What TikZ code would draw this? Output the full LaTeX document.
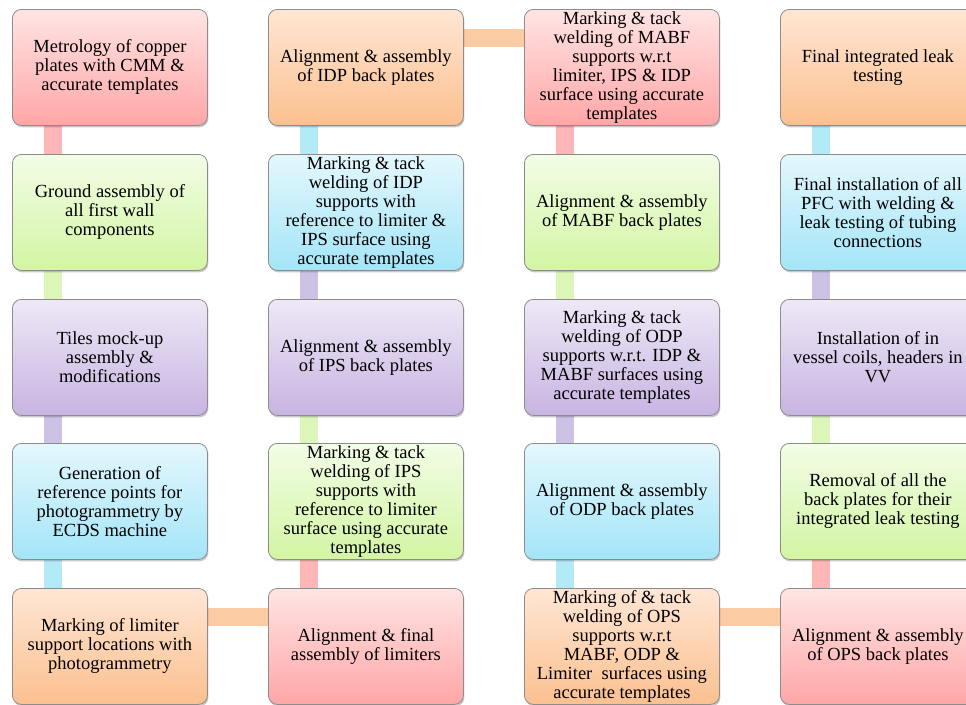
\documentclass[tikz,border=0pt]{standalone}
\usepackage{fontspec}
\setmainfont{Liberation Serif}
\usetikzlibrary{calc,shadows,backgrounds}
\definecolor{pinkT}{HTML}{FFE4E4}
\definecolor{pinkB}{HTML}{FFA6A6}
\definecolor{pinkC}{HTML}{FFB6B6}
\definecolor{greenT}{HTML}{F2FDE6}
\definecolor{greenB}{HTML}{D3F5A3}
\definecolor{greenC}{HTML}{DCF5B8}
\definecolor{purpleT}{HTML}{EEE8F6}
\definecolor{purpleB}{HTML}{C8B4E2}
\definecolor{purpleC}{HTML}{CEC1E6}
\definecolor{blueT}{HTML}{E4F7FD}
\definecolor{blueB}{HTML}{A3E5F8}
\definecolor{blueC}{HTML}{B3EAF8}
\definecolor{orangeT}{HTML}{FFE6D4}
\definecolor{orangeB}{HTML}{FBC08F}
\definecolor{orangeC}{HTML}{FBCCA3}
\definecolor{boxline}{HTML}{8C8C8C}
\tikzset{
  box/.style={draw=boxline, line width=0.8pt, rounded corners=9pt,
    minimum width=195pt, minimum height=116pt, anchor=north west,
    align=center, inner sep=2pt, font=\fontsize{18.5}{19}\selectfont,
    drop shadow={shadow xshift=1pt, shadow yshift=-2pt, opacity=0.3, fill=black!70}},
  pinkbox/.style={box, top color=pinkT, bottom color=pinkB},
  greenbox/.style={box, top color=greenT, bottom color=greenB},
  purplebox/.style={box, top color=purpleT, bottom color=purpleB},
  bluebox/.style={box, top color=blueT, bottom color=blueB},
  orangebox/.style={box, top color=orangeT, bottom color=orangeB},
  conn/.style={line width=18pt, draw=#1, line cap=butt},
}
\begin{document}
\begin{tikzpicture}[x=1pt,y=-1pt]
\useasboundingbox (0,0) rectangle (966,704);
\clip (0,0) rectangle (966,704);
% column 1
\node[pinkbox] (a1) at (12,9) {Metrology of copper\\plates with CMM \&\\accurate templates};
\node[greenbox] (a2) at (12,154) {Ground assembly of\\all first wall\\components};
\node[purplebox] (a3) at (12,299) {Tiles mock-up\\assembly \&\\modifications};
\node[bluebox] (a4) at (12,443) {Generation of\\reference points for\\photogrammetry by\\ECDS machine};
\node[orangebox] (a5) at (12,588) {Marking of limiter\\support locations with\\photogrammetry};
% column 2
\node[pinkbox] (b5) at (268,588) {Alignment \& final\\assembly of limiters};
\node[greenbox] (b4) at (268,443) {Marking \& tack\\welding of IPS\\supports with\\reference to limiter\\surface using accurate\\templates};
\node[purplebox] (b3) at (268,299) {Alignment \& assembly\\of IPS back plates};
\node[bluebox] (b2) at (268,154) {Marking \& tack\\welding of IDP\\supports with\\reference to limiter \&\\IPS surface using\\accurate templates};
\node[orangebox] (b1) at (268,9) {Alignment \& assembly\\of IDP back plates};
% column 3
\node[pinkbox] (c1) at (524,9) {Marking \& tack\\welding of MABF\\supports w.r.t\\limiter, IPS \& IDP\\surface using accurate\\templates};
\node[greenbox] (c2) at (524,154) {Alignment \& assembly\\of MABF back plates};
\node[purplebox] (c3) at (524,299) {Marking \& tack\\welding of ODP\\supports w.r.t. IDP \&\\MABF surfaces using\\accurate templates};
\node[bluebox] (c4) at (524,443) {Alignment \& assembly\\of ODP back plates};
\node[orangebox] (c5) at (524,588) {Marking of \& tack\\welding of OPS\\supports w.r.t\\MABF, ODP \&\\Limiter\ \ surfaces using\\accurate templates};
% column 4
\node[pinkbox] (d5) at (780,588) {Alignment \& assembly\\of OPS back plates};
\node[greenbox] (d4) at (780,443) {Removal of all the\\back plates for their\\integrated leak testing};
\node[purplebox] (d3) at (780,299) {Installation of in\\vessel coils, headers in\\VV};
\node[bluebox] (d2) at (780,154) {Final installation of all\\PFC with welding \&\\leak testing of tubing\\connections};
\node[orangebox] (d1) at (780,9) {Final integrated leak\\testing};
\begin{scope}[on background layer]
% column 1 down
\draw[conn=pinkC]   ($(a1.south west)+(41,0)$) -- ($(a2.north west)+(41,0)$);
\draw[conn=greenC]  ($(a2.south west)+(41,0)$) -- ($(a3.north west)+(41,0)$);
\draw[conn=purpleC] ($(a3.south west)+(41,0)$) -- ($(a4.north west)+(41,0)$);
\draw[conn=blueC]   ($(a4.south west)+(41,0)$) -- ($(a5.north west)+(41,0)$);
\draw[conn=orangeC] ($(a5.north east)+(0,29)$) -- ($(b5.north west)+(0,29)$);
% column 2 up
\draw[conn=pinkC]   ($(b5.north west)+(41,0)$) -- ($(b4.south west)+(41,0)$);
\draw[conn=greenC]  ($(b4.north west)+(41,0)$) -- ($(b3.south west)+(41,0)$);
\draw[conn=purpleC] ($(b3.north west)+(41,0)$) -- ($(b2.south west)+(41,0)$);
\draw[conn=blueC]   ($(b2.north west)+(41,0)$) -- ($(b1.south west)+(41,0)$);
\draw[conn=orangeC] ($(b1.north east)+(0,29)$) -- ($(c1.north west)+(0,29)$);
% column 3 down
\draw[conn=pinkC]   ($(c1.south west)+(41,0)$) -- ($(c2.north west)+(41,0)$);
\draw[conn=greenC]  ($(c2.south west)+(41,0)$) -- ($(c3.north west)+(41,0)$);
\draw[conn=purpleC] ($(c3.south west)+(41,0)$) -- ($(c4.north west)+(41,0)$);
\draw[conn=blueC]   ($(c4.south west)+(41,0)$) -- ($(c5.north west)+(41,0)$);
\draw[conn=orangeC] ($(c5.north east)+(0,29)$) -- ($(d5.north west)+(0,29)$);
% column 4 up
\draw[conn=pinkC]   ($(d5.north west)+(41,0)$) -- ($(d4.south west)+(41,0)$);
\draw[conn=greenC]  ($(d4.north west)+(41,0)$) -- ($(d3.south west)+(41,0)$);
\draw[conn=purpleC] ($(d3.north west)+(41,0)$) -- ($(d2.south west)+(41,0)$);
\draw[conn=blueC]   ($(d2.north west)+(41,0)$) -- ($(d1.south west)+(41,0)$);
\end{scope}
\end{tikzpicture}
\end{document}
